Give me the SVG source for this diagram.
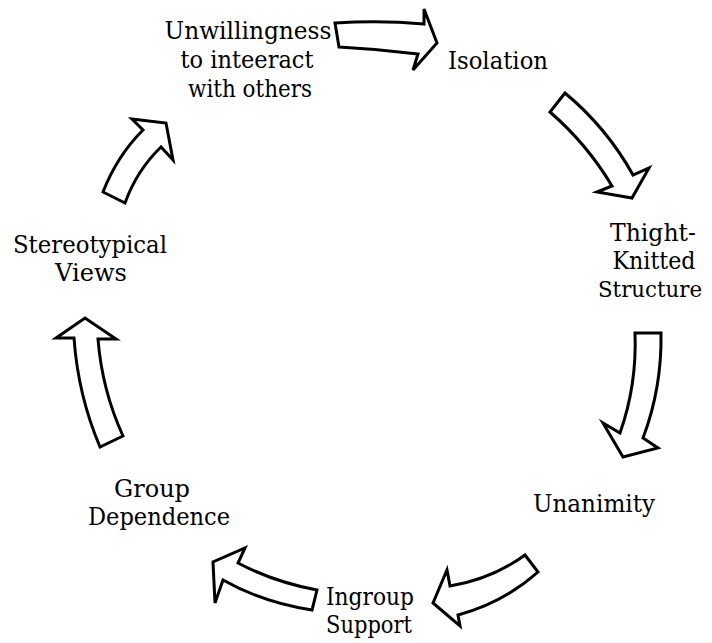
<svg xmlns="http://www.w3.org/2000/svg" width="712" height="643" viewBox="0 0 712 643">
  <defs>
    <style type="text/css">
      .arrow { fill: #fff; stroke: #000; stroke-width: 3; stroke-linejoin: miter; }
    </style>
  </defs>
  <rect width="712" height="643" fill="#fff"/>

  <!-- curved block arrows running clockwise round the cycle -->
  <g id="connectors">
    <path class="arrow" d="M335,23 Q380,20 424,24 L424,9 L437,43 L413,70 L418,54 Q378,49 339,47 Z"/>
    <path class="arrow" d="M565,93 Q607,128 633,175 L649,168 L632,198 L597,192 L612,186 Q587,144 550,112 Z"/>
    <path class="arrow" d="M635,333 L661,333 Q662,388 643,438 L658,448 L623,457 L603,423 L620,433 Q637,385 635,333 Z"/>
    <path class="arrow" d="M525,555 L538,572 Q503,603 458,615 L460,626 L433,603 L447,570 L450,586 Q492,579 525,555 Z"/>
    <path class="arrow" d="M317,590 L312,610 Q264,603 223,580 L215,603 L213,562 L245,548 L238,563 Q274,582 317,590 Z"/>
    <path class="arrow" d="M123,436 L100,447 Q78,395 74,338 L56,338 L85,318 L116,339 L98,339 Q102,390 123,436 Z"/>
    <path class="arrow" d="M103,192 L125,203 Q137,170 161,147 L173,160 L166,123 L132,119 L143,130 Q117,156 103,192 Z"/>
  </g>

  <!-- node labels, serif type fitted to fixed widths -->
  <g font-family="DejaVu Serif, serif" font-size="25" text-anchor="middle" fill="#000">
    <g id="node-unwillingness">
      <text x="248" y="39" textLength="167" lengthAdjust="spacingAndGlyphs">Unwillingness</text>
      <text x="247" y="68" textLength="133" lengthAdjust="spacingAndGlyphs">to inteeract</text>
      <text x="250" y="97" textLength="124" lengthAdjust="spacingAndGlyphs">with others</text>
    </g>
    <g id="node-isolation">
      <text x="498" y="69" textLength="100" lengthAdjust="spacingAndGlyphs">Isolation</text>
    </g>
    <g id="node-tight-knitted">
      <text x="653" y="241" textLength="86" lengthAdjust="spacingAndGlyphs">Thight-</text>
      <text x="654" y="269" textLength="83" lengthAdjust="spacingAndGlyphs">Knitted</text>
      <text x="650" y="297" font-size="23" textLength="104" lengthAdjust="spacingAndGlyphs">Structure</text>
    </g>
    <g id="node-unanimity">
      <text x="594" y="512" textLength="122" lengthAdjust="spacingAndGlyphs">Unanimity</text>
    </g>
    <g id="node-ingroup-support">
      <text x="370" y="605" textLength="88" lengthAdjust="spacingAndGlyphs">Ingroup</text>
      <text x="369" y="633" textLength="86" lengthAdjust="spacingAndGlyphs">Support</text>
    </g>
    <g id="node-group-dependence">
      <text x="152" y="497" textLength="76" lengthAdjust="spacingAndGlyphs">Group</text>
      <text x="159" y="525" textLength="142" lengthAdjust="spacingAndGlyphs">Dependence</text>
    </g>
    <g id="node-stereotypical">
      <text x="90" y="253" textLength="154" lengthAdjust="spacingAndGlyphs">Stereotypical</text>
      <text x="91" y="281" textLength="72" lengthAdjust="spacingAndGlyphs">Views</text>
    </g>
  </g>
</svg>
